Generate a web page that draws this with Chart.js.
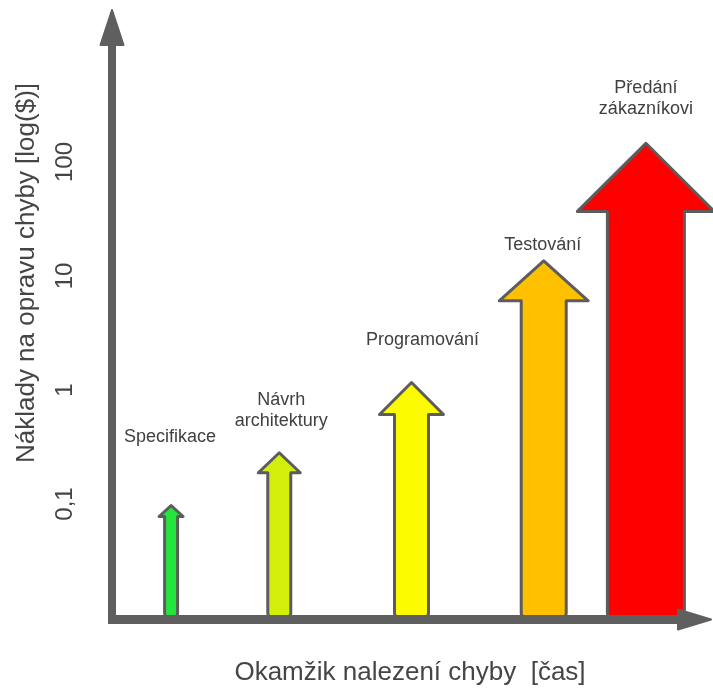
<!DOCTYPE html>
<html>
<head>
<meta charset="utf-8">
<script src="https://cdn.jsdelivr.net/npm/chart.js@4.4.1/dist/chart.umd.min.js"></script>
<style>
  html, body { margin: 0; padding: 0; background: #ffffff; }
  #c { display: block; }
</style>
</head>
<body>
<canvas id="c" width="713" height="691" style="width:713px;height:691px"></canvas>
<script>
// ---------- data ----------
const categories = ["Specifikace", "Návrh architektury", "Programování", "Testování", "Předání zákazníkovi"];
const labelLines = [["Specifikace"], ["Návrh", "architektury"], ["Programování"], ["Testování"], ["Předání", "zákazníkovi"]];
const discoveryTime = [10, 28, 50, 72, 89];          // position on the time axis (0-100)
const repairCost = [0.1, 0.29, 1.2, 14, 150];        // cost, log scale
const yTickValues = [0.1, 1, 10, 100];
const yTickLabels = ["0,1", "1", "10", "100"];
const xTitle = "Okamžik nalezení chyby  [čas]";
const yTitle = "Náklady na opravu chyby [log($)]";

// ---------- styles ----------
const arrowColors = ["#22e63c", "#d2ee0a", "#fdfb00", "#ffc000", "#ff0000"];
const shaftWidths = [16, 26, 37, 48, 80];
const headWidths = [27, 45, 67, 92, 140];
const headHeights = [11, 20, 32, 40, 68];
const labelDx = [-1, 2, 11, -1, 0];
const labelDy = [-67, -30, -41, -14, -33];
const FONT = '"Liberation Sans", Arial, sans-serif';
const AXIS_COLOR = "#5f5f5f";
const BORDER_COLOR = "#5c5c5c";
const TEXT_COLOR = "#404040";

function arrowPath(ctx, cx, tipY, baseY, sw, hw, hh) {
  const r = 4;
  const l = cx - sw / 2, rr = cx + sw / 2;
  const hy = tipY + hh;
  ctx.beginPath();
  ctx.moveTo(l, hy);
  ctx.lineTo(cx - hw / 2, hy);
  ctx.lineTo(cx, tipY);
  ctx.lineTo(cx + hw / 2, hy);
  ctx.lineTo(rr, hy);
  ctx.lineTo(rr, baseY - r);
  ctx.quadraticCurveTo(rr, baseY, rr - r, baseY);
  ctx.lineTo(l + r, baseY);
  ctx.quadraticCurveTo(l, baseY, l, baseY - r);
  ctx.closePath();
}

const arrowPlugin = {
  id: "arrows",
  afterDraw(chart) {
    const ctx = chart.ctx;
    const area = chart.chartArea;
    const meta = chart.getDatasetMeta(0);
    const yScale = chart.scales.y;
    const baseY = yScale.getPixelForValue(yScale.min) - 1;

    ctx.save();
    // arrows (bars)
    meta.data.forEach((pt, i) => {
      const bw = 3;
      arrowPath(ctx, pt.x, pt.y + bw / 2, baseY, shaftWidths[i] - bw, headWidths[i] - bw, headHeights[i]);
      ctx.fillStyle = arrowColors[i];
      ctx.fill();
      ctx.lineWidth = bw;
      ctx.lineJoin = "round";
      ctx.strokeStyle = BORDER_COLOR;
      ctx.stroke();
    });

    // axes
    ctx.fillStyle = AXIS_COLOR;
    ctx.strokeStyle = AXIS_COLOR;
    ctx.lineJoin = "round";
    ctx.lineWidth = 2;
    const ax = area.left + 1;
    ctx.fillRect(ax - 4, area.top - 4, 8, area.bottom - area.top + 10);
    ctx.beginPath();
    ctx.moveTo(ax, area.top - 38);
    ctx.lineTo(ax - 11.5, area.top - 3);
    ctx.lineTo(ax + 11.5, area.top - 3);
    ctx.closePath();
    ctx.fill(); ctx.stroke();

    const ay = area.bottom + 1.5;
    ctx.fillRect(ax - 4, ay - 4.5, area.right - 33 - (ax - 4), 9);
    ctx.beginPath();
    ctx.moveTo(area.right - 34, ay - 10);
    ctx.lineTo(area.right - 1, ay);
    ctx.lineTo(area.right - 34, ay + 10);
    ctx.closePath();
    ctx.fill(); ctx.stroke();

    // labels over arrows
    ctx.fillStyle = TEXT_COLOR;
    ctx.font = "18px " + FONT;
    ctx.textAlign = "center";
    ctx.textBaseline = "middle";
    meta.data.forEach((pt, i) => {
      const lines = labelLines[i];
      const lh = 21;
      lines.forEach((line, k) => {
        const y = pt.y + labelDy[i] - (lines.length - 1 - k) * lh;
        ctx.fillText(line, pt.x + labelDx[i], y);
      });
    });

    // axis titles
    ctx.fillStyle = "#454545";
    ctx.font = "26px " + FONT;
    ctx.textAlign = "center";
    ctx.textBaseline = "middle";
    ctx.fillText(xTitle, 410, 673);
    ctx.save();
    ctx.translate(27, 273);
    ctx.rotate(-Math.PI / 2);
    ctx.fillText(yTitle, 0, 0);
    ctx.restore();
    ctx.restore();
  }
};

new Chart(document.getElementById("c"), {
  type: "scatter",
  data: {
    datasets: [{
      label: "Náklady",
      data: discoveryTime.map((t, i) => ({ x: t, y: repairCost[i] })),
      pointRadius: 0,
      pointHoverRadius: 0,
      showLine: false
    }]
  },
  options: {
    responsive: false,
    animation: false,
    events: [],
    layout: { padding: { top: 48, right: 1, bottom: 73, left: 0 } },
    plugins: { legend: { display: false }, tooltip: { enabled: false } },
    scales: {
      x: { type: "linear", min: 0, max: 100, display: false },
      y: {
        type: "logarithmic",
        position: "left",
        min: 0.01,
        max: 1000,
        grid: { display: false },
        border: { display: false },
        afterBuildTicks: (s) => { s.ticks = yTickValues.map(v => ({ value: v })); },
        afterFit: (s) => { s.width = 111; },
        ticks: {
          minRotation: 90,
          maxRotation: 90,
          crossAlign: "center",
          padding: 18,
          autoSkip: false,
          color: "#454545",
          font: { family: FONT, size: 24 },
          callback: (v) => {
            const i = yTickValues.indexOf(v);
            return i >= 0 ? yTickLabels[i] : "";
          }
        }
      }
    }
  },
  plugins: [arrowPlugin]
});
</script>
</body>
</html>
